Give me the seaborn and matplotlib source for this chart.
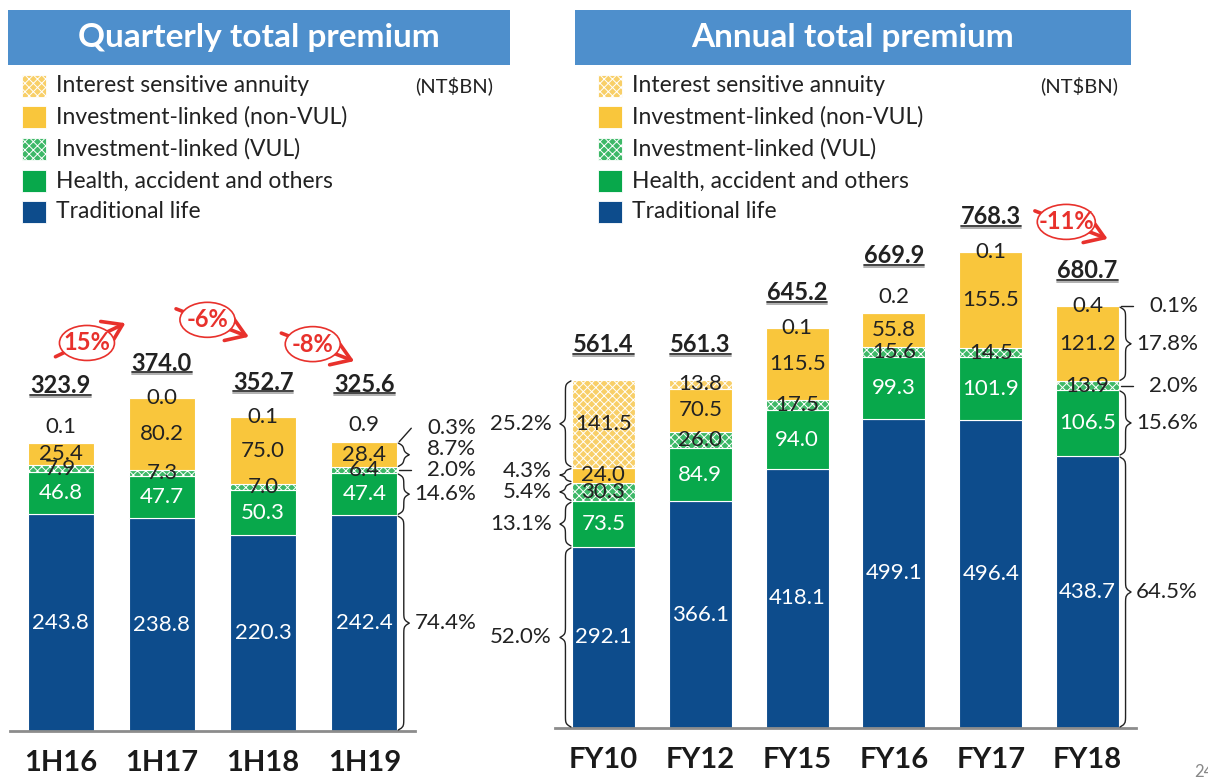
import numpy as np
import matplotlib
matplotlib.use('Agg')
import matplotlib.pyplot as plt
import seaborn as sns
from matplotlib.patches import Rectangle, Ellipse, FancyArrowPatch
from matplotlib.lines import Line2D

# ---- data (NT$BN) ----
series_names = ['Traditional life', 'Health, accident and others',
                'Investment-linked (VUL)', 'Investment-linked (non-VUL)',
                'Interest sensitive annuity']

q_labels = ['1H16', '1H17', '1H18', '1H19']
q_traditional = [243.8, 238.8, 220.3, 242.4]
q_health = [46.8, 47.7, 50.3, 47.4]
q_vul = [7.9, 7.3, 7.0, 6.4]
q_non_vul = [25.4, 80.2, 75.0, 28.4]
q_annuity = [0.1, 0.0, 0.1, 0.9]
q_total = [323.9, 374.0, 352.7, 325.6]
q_growth = ['15%', '-6%', '-8%']
q_share_1h19 = ['74.4%', '14.6%', '2.0%', '8.7%', '0.3%']

a_labels = ['FY10', 'FY12', 'FY15', 'FY16', 'FY17', 'FY18']
a_traditional = [292.1, 366.1, 418.1, 499.1, 496.4, 438.7]
a_health = [73.5, 84.9, 94.0, 99.3, 101.9, 106.5]
a_vul = [30.3, 26.0, 17.5, 15.6, 14.5, 13.9]
a_non_vul = [24.0, 70.5, 115.5, 55.8, 155.5, 121.2]
a_annuity = [141.5, 13.8, 0.1, 0.2, 0.1, 0.4]
a_total = [561.4, 561.3, 645.2, 669.9, 768.3, 680.7]
a_growth = ['-11%']          # FY17 -> FY18
a_share_fy10 = ['52.0%', '13.1%', '5.4%', '4.3%', '25.2%']
a_share_fy18 = ['64.5%', '15.6%', '2.0%', '17.8%', '0.1%']

# ---- style ----
BLUE, GREEN, VUL_GREEN = '#0d4c8c', '#08a84b', '#3db867'
YELLOW, ANNUITY_Y = '#f9c63c', '#f8cf68'
styles = [(BLUE, ''), (GREEN, ''), (VUL_GREEN, 'xxxx'), (YELLOW, ''), (ANNUITY_Y, 'xxxx')]
label_colors = ['white', 'white', '#222222', '#222222', '#222222']
RED = '#e8312c'
DARK = '#222222'

sns.set_style('white')
plt.rcParams['font.family'] = ['Lato', 'DejaVu Sans']
plt.rcParams['hatch.linewidth'] = 0.7

W, H = 1208, 781
fig = plt.figure(figsize=(W / 100, H / 100), dpi=100)


def px(x, y):
    """pixel (top-left origin) -> figure fraction"""
    return x / W, 1 - y / H


def disp2fig(x, y):
    return fig.transFigure.inverted().transform((x, y))


def fig_line(xs, ys, **kw):
    pts = [disp2fig(a, b) for a, b in zip(xs, ys)]
    fig.add_artist(Line2D([p[0] for p in pts], [p[1] for p in pts],
                          transform=fig.transFigure, **kw))


def brace(x, y0, y1, w, direction):
    L = y1 - y0
    r = min(3.0, L / 8)
    s = np.linspace(0, L / 2, 60)
    off = (w / 2) * (np.tanh(s / r) + np.tanh((s - L / 2) / r) + 1)
    ys = np.concatenate([y0 + s, (y1 - s)[::-1]])
    xs = x + direction * np.concatenate([off, off[::-1]])
    fig_line(xs, ys, color=DARK, lw=1.0)


def draw_panel(ax, labels, layers, totals, ylim_top):
    n = len(labels)
    bottom = np.zeros(n)
    for vals, (col, hatch) in zip(layers, styles):
        vals = np.asarray(vals, dtype=float)
        sns.barplot(x=labels, y=vals, bottom=bottom, color=col, saturation=1,
                    width=0.65, edgecolor='white', linewidth=0.8, hatch=hatch,
                    errorbar=None, order=labels, ax=ax)
        bottom = bottom + vals
    ax.set_xlim(-0.5, n - 0.5)
    ax.set_ylim(0, ylim_top)
    ax.set_facecolor('none')
    for s in ['top', 'right', 'left']:
        ax.spines[s].set_visible(False)
    ax.spines['bottom'].set_color('#8c8c8c')
    ax.spines['bottom'].set_linewidth(2)
    ax.set_yticks([])
    ax.set_xlabel('')
    ax.set_ylabel('')
    ax.set_xticks(range(n))
    ax.set_xticklabels(labels, fontsize=21, fontweight='bold', color='#1a1a1a')
    ax.tick_params(axis='x', which='major', length=0, pad=14)
    ax.set_xticks(np.arange(-0.5, n), minor=True)
    ax.tick_params(axis='x', which='minor', direction='in', length=8,
                   width=1.2, color='#8c8c8c')


def label_panel(ax, layers, totals):
    n = len(totals)
    tot_texts = []
    for i in range(n):
        cum = 0.0
        above = False
        for k, vals in enumerate(layers):
            v = vals[i]
            y0 = ax.transData.transform((i, cum))[1]
            y1 = ax.transData.transform((i, cum + v))[1]
            xc = ax.transData.transform((i, 0))[0]
            if k == 4 and v < 5:
                nonvul_px = y0 - ax.transData.transform((i, cum - layers[3][i]))[1]
                if nonvul_px < 40:
                    yc = y1 + 16
                    above = True
                else:
                    yc = y1
            else:
                yc = (y0 + y1) / 2
            fx_, fy_ = disp2fig(xc, yc)
            fig.text(fx_, fy_, f'{v:.1f}', color=label_colors[k], fontsize=16,
                     ha='center', va='center')
            cum += v
        top = ax.transData.transform((i, cum))[1]
        ty = top + 35 + (22 if above else 0)
        fx_, fy_ = disp2fig(xc, ty)
        tot_texts.append(fig.text(fx_, fy_, f'{totals[i]:.1f}', color=DARK,
                                  fontsize=17, fontweight='bold',
                                  ha='center', va='center'))
    return tot_texts


def share_labels(ax, i, layers, shares, side):
    # side +1: right of bar, -1: left of bar
    half = 0.65 / 2
    edge = ax.transData.transform((i + side * half, 0))[0]
    cum = 0.0
    spans = []
    for vals in layers:
        v = vals[i]
        y0 = ax.transData.transform((i, cum))[1]
        y1 = ax.transData.transform((i, cum + v))[1]
        spans.append((y0, y1))
        cum += v
    centers = [(a + b) / 2 for a, b in spans]
    ly = list(centers)
    for k in range(1, len(ly)):
        ly[k] = max(ly[k], ly[k - 1] + 21)
    tx = edge + 79 if side > 0 else edge - 20
    for k, ((y0, y1), txt) in enumerate(zip(spans, shares)):
        if y1 - y0 >= 12:
            brace(edge + side * 1, y0 + 1, y1 - 1, 11, side)
        else:
            fig_line([edge + side * 2, edge + side * 14], [centers[k], ly[k]],
                     color=DARK, lw=1.0)
        fx_, fy_ = disp2fig(tx, ly[k])
        fig.text(fx_, fy_, txt, color=DARK, fontsize=16, ha='right', va='center')


def growth_mark(ax, i, txt, dx, dy, totals):
    cx, cy = ax.transData.transform((i + dx, max(totals[i], totals[i + 1]) + dy))
    if txt.startswith('-'):
        start, tip = (cx - 34, cy + 12), (cx + 44, cy - 18)
    else:
        start, tip = (cx - 34, cy - 15), (cx + 41, cy + 21)
    arr = FancyArrowPatch(disp2fig(*start), disp2fig(*tip), transform=fig.transFigure,
                          arrowstyle='->,head_length=0.6,head_width=0.4',
                          mutation_scale=22, lw=2.6, color=RED)
    fig.add_artist(arr)
    c = disp2fig(cx, cy)
    w = 55 if len(txt) < 4 else 58
    fig.add_artist(Ellipse(c, w / W, 35 / H, transform=fig.transFigure,
                           facecolor='white', edgecolor=RED, lw=1.2, zorder=3))
    fig.text(c[0], c[1], txt, color=RED, fontsize=17, fontweight='bold',
             ha='center', va='center', zorder=4)


def legend_block(x0, unit_x):
    rows = [86, 117, 149, 181, 212]
    for k in [4, 3, 2, 1, 0]:
        y = rows[4 - k]
        col, hatch = styles[k]
        fx_, fy_ = px(x0, y + 11)
        fig.add_artist(Rectangle((fx_, fy_), 24 / W, 22 / H, transform=fig.transFigure,
                                 facecolor=col, edgecolor='white', lw=0.6, hatch=hatch))
        tx, ty = px(x0 + 34, y)
        fig.text(tx, ty, series_names[k], fontsize=16.5, color=DARK, va='center')
    ux, uy = px(unit_x, 86)
    fig.text(ux, uy, '(NT$BN)', fontsize=14.5, color=DARK, va='center', ha='right')


def banner(x0, x1, title):
    fx0, fy0 = px(x0, 65)
    fig.add_artist(Rectangle((fx0, fy0), (x1 - x0) / W, 55 / H, transform=fig.transFigure,
                             facecolor='#4e8fcc', edgecolor='none'))
    tx, ty = px((x0 + x1) / 2, 38)
    fig.text(tx, ty, title, color='white', fontsize=24, fontweight='bold',
             ha='center', va='center')


# ---- axes ----
axL = fig.add_axes([10 / W, (H - 731) / H, 405 / W, 671 / H])
axR = fig.add_axes([555 / W, (H - 728) / H, 581 / W, 668 / H])

q_layers = [q_traditional, q_health, q_vul, q_non_vul, q_annuity]
a_layers = [a_traditional, a_health, a_vul, a_non_vul, a_annuity]

draw_panel(axL, q_labels, q_layers, q_total, 671 / 0.89)
draw_panel(axR, a_labels, a_layers, a_total, 668 / 0.62)

banner(8, 510, 'Quarterly total premium')
banner(575, 1131, 'Annual total premium')
legend_block(22, 493)
legend_block(598, 1118)

totL = label_panel(axL, q_layers, q_total)
totR = label_panel(axR, a_layers, a_total)

share_labels(axL, 3, q_layers, q_share_1h19, +1)
share_labels(axR, 0, a_layers, a_share_fy10, -1)
share_labels(axR, 5, a_layers, a_share_fy18, +1)

q_growth_pos = [(0.26, 62), (0.45, 88), (0.49, 82)]
for i, (g, (dx, dy)) in enumerate(zip(q_growth, q_growth_pos)):
    growth_mark(axL, i, g, dx, dy, q_total)
growth_mark(axR, 4, a_growth[0], 0.78, 48, a_total)

# double underline under totals
fig.canvas.draw()
renderer = fig.canvas.get_renderer()
for t in totL + totR:
    bb = t.get_window_extent(renderer)
    fig_line([bb.x0, bb.x1], [bb.y0 + 2.5, bb.y0 + 2.5], color='#333333', lw=1.3)
    fig_line([bb.x0, bb.x1], [bb.y0 + 0.5, bb.y0 + 0.5], color='#aaaaaa', lw=1.3)

fx_, fy_ = px(1194, 772)
fig.text(fx_, fy_, '24', color='#888888', fontsize=12, va='center')

fig.savefig('out.png', dpi=100)
